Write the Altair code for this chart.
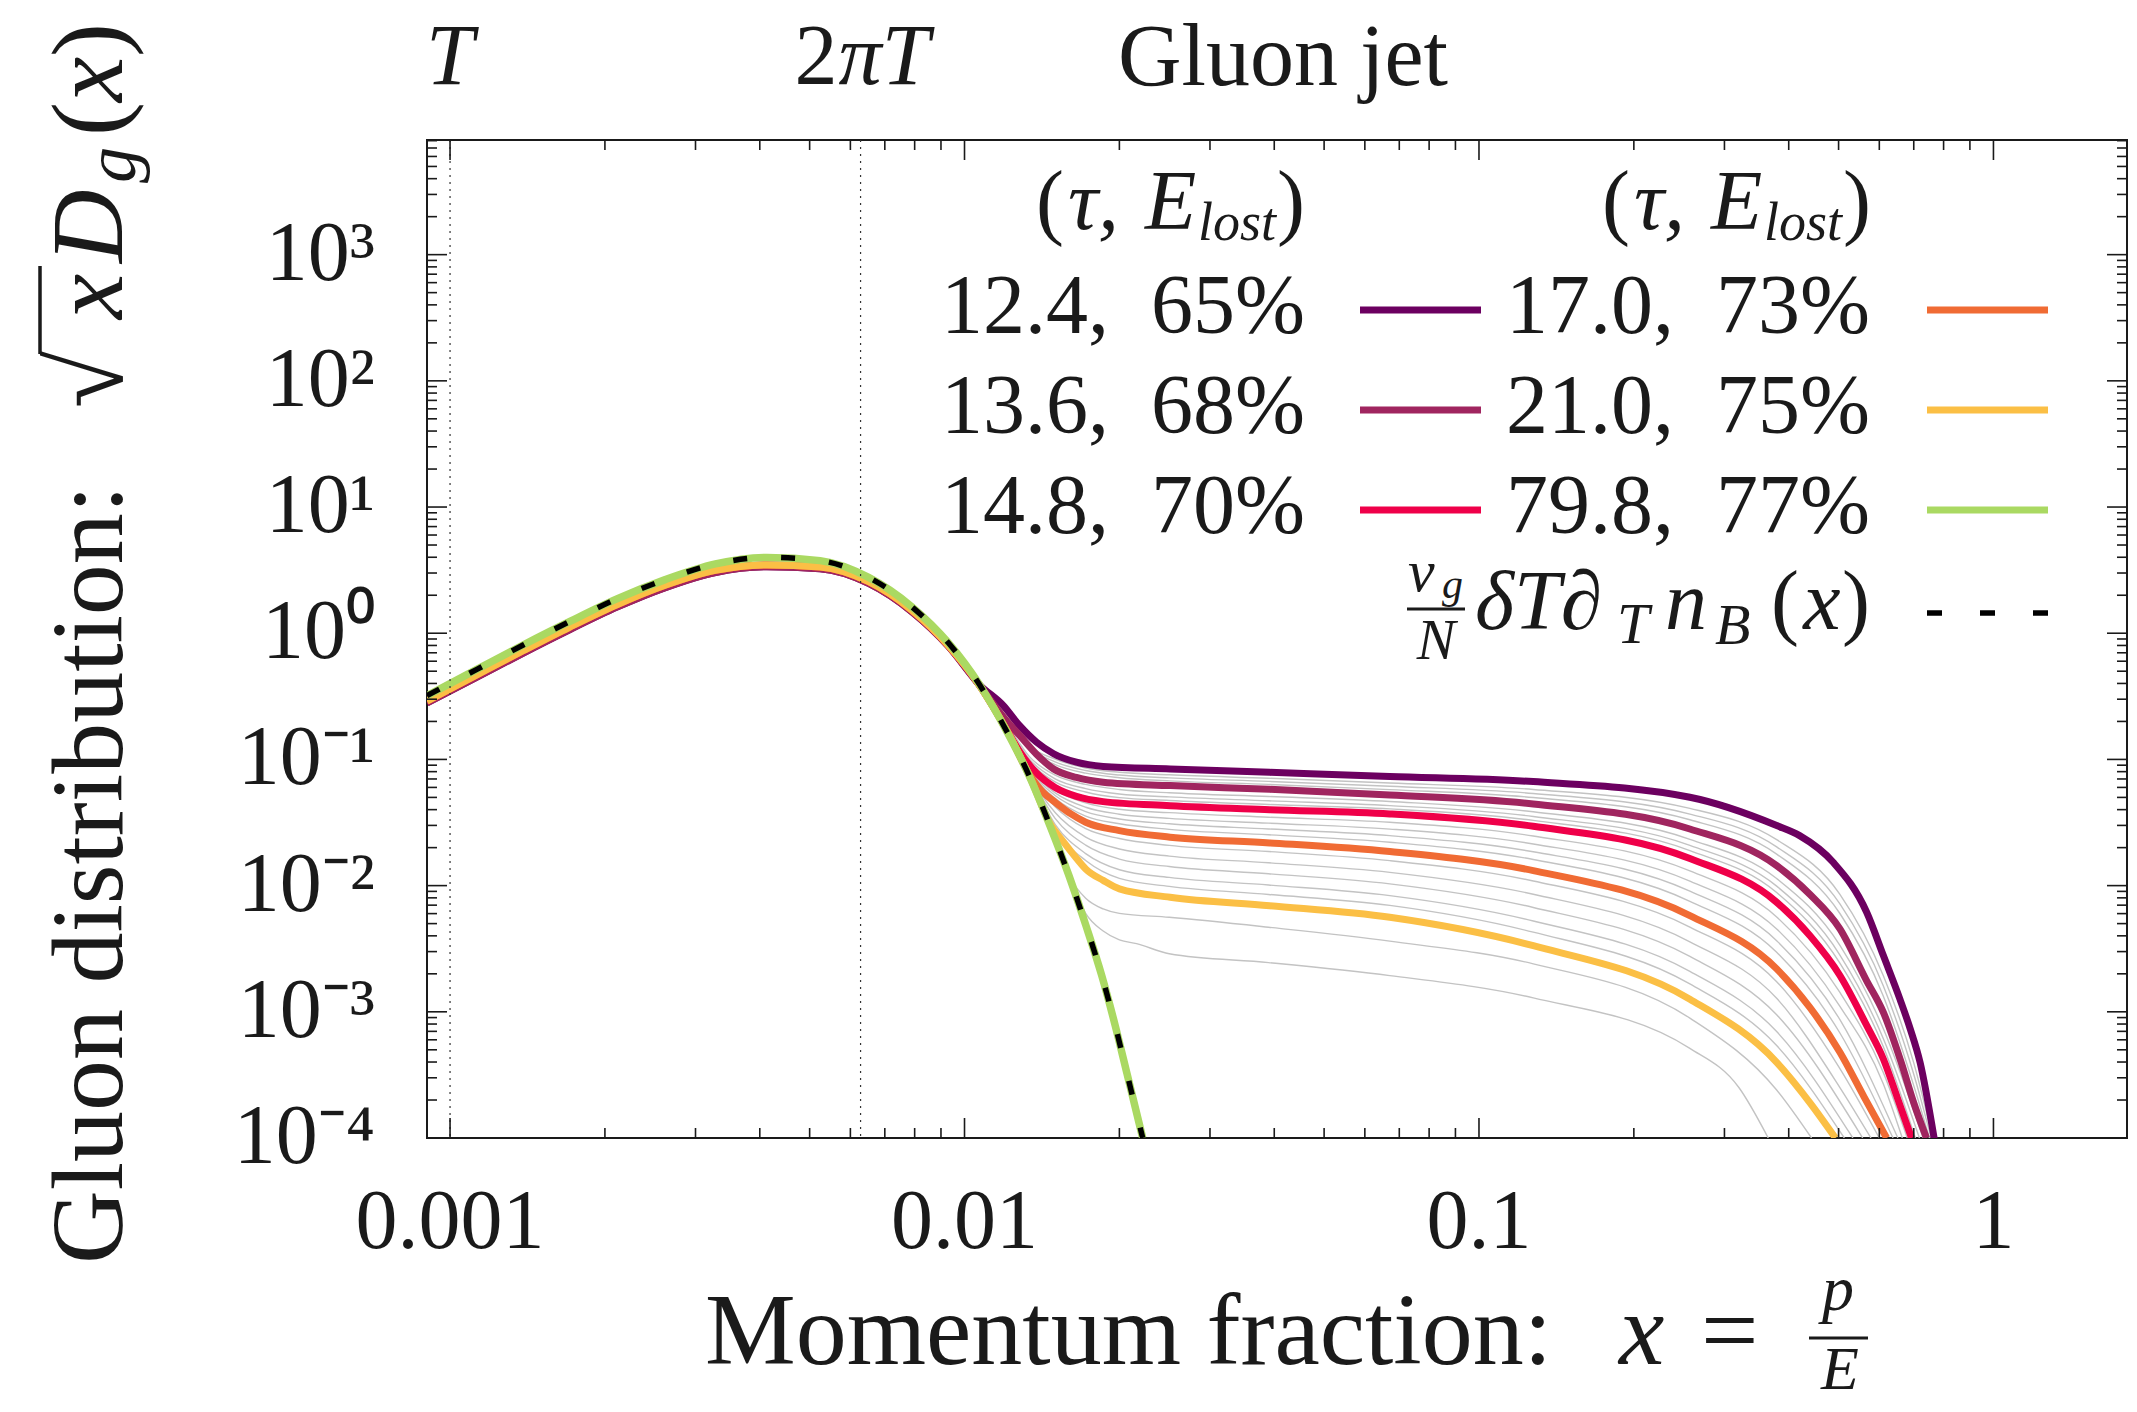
import altair as alt
import pandas as pd

W, H = 1700, 998
FONT = "Liberation Serif"
INK = "#1a1a1a"

# ---------------- axes ----------------
x_domain = [0.000902, 1.818]
y_domain = [1e-4, 8100]
x_tick_values = [0.001, 0.01, 0.1, 1]
x_tick_labels = ["0.001", "0.01", "0.1", "1"]
y_tick_values = [1e-4, 1e-3, 1e-2, 1e-1, 1, 10, 100, 1000]
y_tick_labels = ["10⁻⁴", "10⁻³", "10⁻²", "10⁻¹", "10⁰", "10¹", "10²", "10³"]
x_minor = [k * 10.0 ** e for e in range(-4, 1) for k in range(2, 10)
           if x_domain[0] < k * 10.0 ** e < x_domain[1]]
y_minor = [k * 10.0 ** e for e in range(-4, 4) for k in range(2, 10)
           if y_domain[0] < k * 10.0 ** e < y_domain[1]]

# temperature markers
temp_x = [0.001, 0.00628]

# ---------------- legend ----------------
tau = ["12.4", "13.6", "14.8", "17.0", "21.0", "79.8"]
elost = ["65%", "68%", "70%", "73%", "75%", "77%"]
colors = ["#6c0060", "#a0255f", "#ef0049", "#f06b34", "#fbbf45", "#aad962"]

# ---------------- curves ----------------
thermal_x = [0.000902, 0.00113, 0.00139, 0.00171, 0.00211, 0.00262, 0.00328, 0.00413,
             0.00524, 0.00651, 0.0079, 0.0093, 0.0107, 0.0121, 0.0134, 0.01466,
             0.01596, 0.01722, 0.01848, 0.01963, 0.0207, 0.0222]
thermal_y = [0.32, 0.52, 0.81, 1.24, 1.87, 2.66, 3.54, 3.99, 3.76, 2.77, 1.62, 0.84,
             0.39, 0.165, 0.0721, 0.0298, 0.0120, 0.00482, 0.00194, 0.000778,
             0.000322, 0.0001]

# low-x part of the coloured snapshots (purple/magenta sit a touch lower)
early_x = [0.000902, 0.00113, 0.00139, 0.00171, 0.00211, 0.00262, 0.00328, 0.00413,
           0.00524, 0.00651, 0.0079, 0.0093]
early_y_hi = [0.29, 0.47, 0.73, 1.12, 1.68, 2.40, 3.15, 3.48, 3.35, 2.56, 1.52, 0.80]
early_y_lo = [0.28, 0.45, 0.70, 1.07, 1.61, 2.30, 3.03, 3.36, 3.24, 2.48, 1.48, 0.79]

purple_x = [0.0107, 0.0119, 0.0128, 0.0138, 0.0149, 0.0165, 0.0186, 0.0251, 0.0392,
            0.0671, 0.1275, 0.257, 0.379, 0.42, 0.488, 0.567, 0.611, 0.658, 0.689,
            0.72, 0.77]
purple_y = [0.39, 0.267, 0.185, 0.137, 0.111, 0.095, 0.088, 0.084, 0.079, 0.0733,
            0.0667, 0.0501, 0.0299, 0.0249, 0.0153, 0.00615, 0.00279, 0.00126,
            0.000733, 0.000398, 0.00009]
magenta_x = [0.0107, 0.0121, 0.0128, 0.0138, 0.0149, 0.0165, 0.0186, 0.0251, 0.0392,
             0.0671, 0.1275, 0.257, 0.379, 0.44, 0.503, 0.567, 0.611, 0.66, 0.70, 0.741]
magenta_y = [0.385, 0.20, 0.155, 0.11, 0.084, 0.072, 0.066, 0.062, 0.058, 0.0523,
             0.0444, 0.0281, 0.0144, 0.0085, 0.00454, 0.00176, 0.00099, 0.00041,
             0.00019, 0.0001]
red_x = [0.0107, 0.0121, 0.0128, 0.0138, 0.0150, 0.0165, 0.0186, 0.0251, 0.0392,
         0.0671, 0.1275, 0.257, 0.379, 0.44, 0.503, 0.567, 0.611, 0.65, 0.693]
red_y = [0.385, 0.17, 0.115, 0.078, 0.060, 0.051, 0.0463, 0.043, 0.040, 0.037,
         0.0295, 0.0164, 0.00738, 0.0040, 0.00194, 0.00078, 0.000423, 0.00021, 0.0001]
orange_x = [0.0107, 0.0121, 0.0134, 0.0142, 0.0150, 0.0161, 0.0172, 0.0200, 0.0251,
            0.0392, 0.0671, 0.1275, 0.257, 0.379, 0.44, 0.503, 0.56, 0.62]
orange_y = [0.385, 0.168, 0.075, 0.055, 0.0458, 0.037, 0.0318, 0.0273, 0.0242,
            0.0218, 0.0186, 0.01315, 0.00579, 0.00219, 0.00108, 0.000478, 0.000213,
            0.0001]
yellow_x = [0.0107, 0.0121, 0.0134, 0.01466, 0.0156, 0.0165, 0.0172, 0.0186, 0.0200,
            0.0251, 0.0392, 0.0671, 0.1275, 0.257, 0.379, 0.44, 0.493]
yellow_y = [0.385, 0.168, 0.0725, 0.031, 0.0220, 0.0165, 0.01356, 0.0110, 0.00942,
            0.00809, 0.00693, 0.00561, 0.00334, 0.00126, 0.000398, 0.00019, 0.0001]

# thin grey intermediate snapshots: log10 values read on a common x grid
gray_grid_x = [0.0107, 0.0121, 0.0134, 0.0150, 0.0172, 0.020, 0.025, 0.039, 0.0671,
               0.1275, 0.257, 0.379, 0.503, 0.6107, 0.70]
gray_logy = {
    "g01": [-0.41, -0.625, -0.892, -0.997, -1.068, -1.102, -1.122, -1.149, -1.187, -1.238, -1.388, -1.636, -2.069, -2.712, -3.405],
    "g02": [-0.41, -0.646, -0.908, -1.019, -1.088, -1.124, -1.146, -1.174, -1.213, -1.270, -1.433, -1.693, -2.145, -2.793, -3.495],
    "g03": [-0.41, -0.667, -0.923, -1.041, -1.109, -1.145, -1.170, -1.198, -1.239, -1.302, -1.478, -1.750, -2.221, -2.874, -3.585],
    "g04": [-0.41, -0.725, -0.982, -1.125, -1.198, -1.238, -1.264, -1.294, -1.334, -1.415, -1.633, -1.944, -2.473, -3.133],
    "g05": [-0.41, -0.739, -1.002, -1.154, -1.231, -1.274, -1.297, -1.328, -1.366, -1.452, -1.681, -2.004, -2.550, -3.211],
    "g06": [-0.41, -0.751, -1.020, -1.178, -1.258, -1.303, -1.325, -1.357, -1.392, -1.483, -1.722, -2.055, -2.615, -3.275],
    "g07": [-0.41, -0.77, -1.063, -1.242, -1.344, -1.395, -1.422, -1.458, -1.498, -1.607, -1.884, -2.248, -2.847, -3.48],
    "g08": [-0.41, -0.77, -1.078, -1.265, -1.379, -1.434, -1.467, -1.505, -1.552, -1.670, -1.965, -2.343, -2.956, -3.57],
    "g09": [-0.41, -0.77, -1.091, -1.286, -1.414, -1.472, -1.510, -1.551, -1.604, -1.732, -2.044, -2.436, -3.062],
    "g10": [-0.41, -0.77, -1.105, -1.308, -1.449, -1.510, -1.554, -1.597, -1.656, -1.793, -2.124, -2.528, -3.168],
    "g11": [-0.41, -0.77, -1.127, -1.375, -1.549, -1.627, -1.681, -1.730, -1.802, -1.963, -2.328, -2.761, -3.45],
    "g12": [-0.41, -0.77, -1.130, -1.421, -1.615, -1.710, -1.766, -1.819, -1.895, -2.068, -2.445, -2.893, -3.60],
    "g13": [-0.41, -0.77, -1.132, -1.467, -1.679, -1.790, -1.849, -1.906, -1.986, -2.173, -2.561, -3.023],
    "g14": [-0.41, -0.77, -1.135, -1.514, -1.746, -1.874, -1.935, -1.995, -2.079, -2.280, -2.680, -3.156],
    "g15": [-0.41, -0.77, -1.137, -1.553, -1.801, -1.943, -2.006, -2.070, -2.157, -2.369, -2.779, -3.267],
}
gray_end_x = {"g01": 0.762, "g02": 0.757, "g03": 0.751, "g04": 0.73, "g05": 0.718,
              "g06": 0.705, "g07": 0.68, "g08": 0.665, "g09": 0.652, "g10": 0.638,
              "g11": 0.60, "g12": 0.578, "g13": 0.557, "g14": 0.533, "g15": 0.513}
g16_x = [0.0107, 0.0121, 0.0134, 0.0150, 0.0160, 0.0172, 0.0186, 0.020, 0.025, 0.039,
         0.0671, 0.1275, 0.257, 0.379, 0.443]
g16_logy = [-0.41, -0.78, -1.142, -1.632, -1.93, -2.10, -2.185, -2.22, -2.251, -2.33,
            -2.44, -2.62, -3.05, -3.62, -4.0]
g17_x = [0.0107, 0.0121, 0.0134, 0.0150, 0.0160, 0.0172, 0.0186, 0.020, 0.0216, 0.025,
         0.039, 0.0671, 0.1275, 0.257, 0.32, 0.365]
g17_logy = [-0.41, -0.78, -1.142, -1.632, -1.93, -2.22, -2.36, -2.43, -2.46, -2.54,
            -2.61, -2.713, -2.89, -3.29, -3.6, -4.0]

# ---------------- tables ----------------
rows = []
for name, vals in gray_logy.items():
    for xv, lv in zip(gray_grid_x, vals):
        rows.append({"curve": name, "x": xv, "y": 10 ** lv})
    rows.append({"curve": name, "x": gray_end_x[name], "y": 1e-4})
for name, xs_, ls_ in (("g16", g16_x, g16_logy), ("g17", g17_x, g17_logy)):
    for xv, lv in zip(xs_, ls_):
        rows.append({"curve": name, "x": xv, "y": 10 ** lv})
gray_df = pd.DataFrame(rows)

coloured = [(purple_x, purple_y, early_y_lo), (magenta_x, magenta_y, early_y_lo),
            (red_x, red_y, early_y_hi), (orange_x, orange_y, early_y_hi),
            (yellow_x, yellow_y, early_y_hi)]
thermal_df = pd.DataFrame({"x": thermal_x, "y": thermal_y})

xs = alt.Scale(type="log", domain=x_domain, nice=False)
ys = alt.Scale(type="log", domain=y_domain, nice=False)
X = alt.X("x:Q", scale=xs, axis=None)
Y = alt.Y("y:Q", scale=ys, axis=None)

layers = []

# grey snapshots
layers.append(alt.Chart(gray_df).mark_line(color="#c3c3c3", strokeWidth=1.4, clip=True,
                                           interpolate="monotone").encode(
    x=X, y=Y, detail="curve:N"))

for (cx, cy, ey), col in zip(coloured, colors[:5]):
    df = pd.DataFrame({"x": early_x + cx, "y": ey + cy})
    layers.append(alt.Chart(df).mark_line(color=col, strokeWidth=7, clip=True,
                                          interpolate="monotone").encode(x=X, y=Y))

layers.append(alt.Chart(thermal_df).mark_line(color=colors[5], strokeWidth=7.5, clip=True,
                                              interpolate="monotone").encode(x=X, y=Y))
layers.append(alt.Chart(thermal_df).mark_line(color="black", strokeWidth=5.5, clip=True,
                                              strokeDash=[14, 34],
                                              interpolate="monotone").encode(x=X, y=Y))

# dotted temperature lines and their labels
temp_df = pd.DataFrame({"x": temp_x})
layers.append(alt.Chart(temp_df).mark_rule(color="#333333", strokeWidth=1.2,
                                           strokeDash=[2, 5]).encode(
    x=X, y=alt.value(0), y2=alt.value(H)))


def xtext(xval, s, dx, size, italic, align, y):
    return alt.Chart(pd.DataFrame({"x": [xval], "t": [s]})).mark_text(
        font=FONT, fontSize=size, fontStyle="italic" if italic else "normal",
        align=align, baseline="alphabetic", dx=dx, color=INK).encode(
        x=X, y=alt.value(y), text="t:N")


layers += [xtext(temp_x[0], "T", 0, 86, True, "center", -56),
           xtext(temp_x[1], "2", -66, 86, False, "left", -56),
           xtext(temp_x[1], "πT", -22, 86, True, "left", -56)]

# tick labels, placed through the scales
layers.append(alt.Chart(pd.DataFrame({"x": x_tick_values, "t": x_tick_labels})).mark_text(
    font=FONT, fontSize=84, align="center", baseline="alphabetic", color=INK).encode(
    x=X, y=alt.value(1108), text="t:N"))
layers.append(alt.Chart(pd.DataFrame({"y": y_tick_values, "t": y_tick_labels})).mark_text(
    font=FONT, fontSize=84, align="right", baseline="middle", color=INK).encode(
    y=Y, x=alt.value(-52), text="t:N"))


# inward ticks on all four sides
def xticks(vals, y0, y1):
    return alt.Chart(pd.DataFrame({"x": vals})).mark_rule(color=INK, strokeWidth=1.6).encode(
        x=X, y=alt.value(y0), y2=alt.value(y1))


def yticks(vals, x0, x1):
    return alt.Chart(pd.DataFrame({"y": vals})).mark_rule(color=INK, strokeWidth=1.6).encode(
        y=Y, x=alt.value(x0), x2=alt.value(x1))


layers += [xticks(x_tick_values, H, H - 20), xticks(x_minor, H, H - 10),
           xticks(x_tick_values, 0, 20), xticks(x_minor, 0, 10),
           yticks(y_tick_values, 0, 20), yticks(y_minor, 0, 10),
           yticks(y_tick_values, W, W - 20), yticks(y_minor, W, W - 10)]


# ---------------- text helpers ----------------
def txt(s, x, y, size, italic=False, align="left", angle=0, baseline="alphabetic"):
    return alt.Chart(pd.DataFrame({"t": [s]})).mark_text(
        font=FONT, fontSize=size, fontStyle="italic" if italic else "normal",
        align=align, baseline=baseline, angle=angle, color=INK).encode(
        x=alt.value(x), y=alt.value(y), text="t:N")


def hline(x1, x2, y, color, width, dash=None):
    kw = {"color": color, "strokeWidth": width}
    if dash:
        kw["strokeDash"] = dash
    return alt.Chart(pd.DataFrame({"a": [0]})).mark_rule(**kw).encode(
        x=alt.value(x1), x2=alt.value(x2), y=alt.value(y))


def vline(x, y1, y2, width):
    return alt.Chart(pd.DataFrame({"a": [0]})).mark_rule(color=INK, strokeWidth=width).encode(
        x=alt.value(x), y=alt.value(y1), y2=alt.value(y2))


# title above the frame
layers.append(txt("Gluon jet", 856, -55, 88, align="center"))

# legend headers
for dx in (0, 566):
    layers += [txt("(", 609 + dx, 89, 84),
               txt("τ,", 641 + dx, 89, 84, italic=True),
               txt("E", 718 + dx, 89, 84, italic=True),
               txt("lost", 771 + dx, 100, 54, italic=True),
               txt(")", 878 + dx, 89, 84, align="right")]

# legend entries
row_base = [193, 293, 393]
for i in range(6):
    col = i // 3
    r = i % 3
    right = 878 + 565 * col
    l0 = 933 + 567 * col
    layers.append(txt(f"{tau[i]},\u2002{elost[i]}", right, row_base[r], 84, align="right"))
    layers.append(hline(l0, l0 + 121, row_base[r] - 23, colors[i], 7))

# thermal legend entry
layers += [txt("ν", 981, 451, 60, italic=True),
           txt("g", 1015, 458, 42, italic=True),
           hline(980, 1038, 469, INK, 3),
           txt("N", 1009, 519, 58, italic=True, align="center"),
           txt("δT∂", 1048, 489, 84, italic=True),
           txt("T", 1190, 503, 58, italic=True),
           txt("n", 1238, 489, 84, italic=True),
           txt("B", 1288, 504, 58, italic=True),
           txt("(", 1344, 489, 84),
           txt("x", 1395, 489, 84, italic=True, align="center"),
           txt(")", 1443, 489, 84, align="right"),
           hline(1500, 1621, 473, "black", 5.5, dash=[15, 38])]

# x-axis title
layers += [txt("Momentum fraction:", 278, 1224, 102),
           txt("x", 1192, 1224, 102, italic=True),
           txt("=", 1274, 1224, 102),
           txt("p", 1411, 1170, 64, italic=True, align="center"),
           hline(1382, 1441, 1198, INK, 3),
           txt("E", 1413, 1249, 62, italic=True, align="center")]

# y-axis title (rotated)
layers += [txt("Gluon distribution:", -305, 1124, 102, angle=270),
           txt("√", -305, 268, 104, angle=270),
           vline(-387, 126, 214, 3.5),
           txt("x", -305, 179, 102, italic=True, angle=270),
           txt("D", -305, 123, 102, italic=True, angle=270),
           txt("g", -292, 43, 72, italic=True, angle=270),
           txt("(", -305, -4, 102, angle=270),
           txt("x", -305, -38, 102, italic=True, angle=270),
           txt(")", -305, -83, 102, angle=270)]

chart = alt.layer(*layers).properties(
    width=W, height=H,
    padding={"left": 419, "top": 132, "right": 2, "bottom": 266},
    autosize=alt.AutoSizeParams(type="none"),
    background="white",
).configure_view(stroke=INK, strokeWidth=2)

chart.save("out.html", embed_options={"renderer": "svg", "actions": False})
